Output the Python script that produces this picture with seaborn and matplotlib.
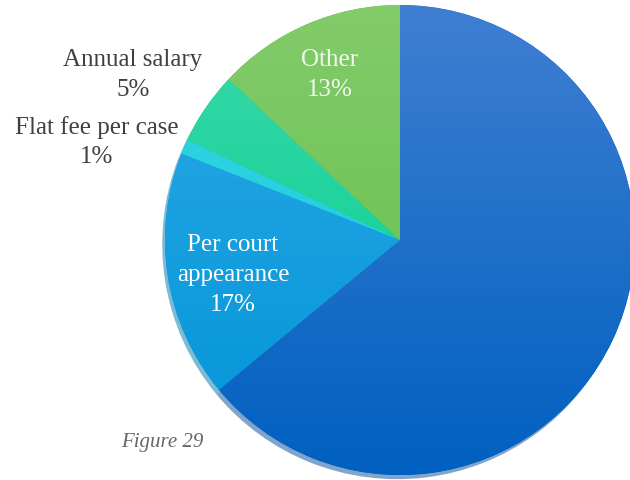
import matplotlib
matplotlib.use("Agg")
import matplotlib.pyplot as plt
import seaborn as sns
import numpy as np
from matplotlib.colors import LinearSegmentedColormap

categories = ["", "Per court\nappearance", "Flat fee per case", "Annual salary", "Other"]
shares = [64, 17, 1, 5, 13]
top_colors = ["#3f7fd2", "#2eaae6", "#38d6e6", "#3ad9a8", "#82cc6a"]
bottom_colors = ["#0060c0", "#0094d8", "#10c8d8", "#00cc90", "#62bb46"]

sns.set_theme(style="white")
plt.rcParams['font.family'] = ['Liberation Serif', 'DejaVu Serif']

fig = plt.figure(figsize=(6.30, 4.81), dpi=100)
ax = fig.add_axes([0, 0, 1, 1])

cx, cy, r = 400, 240, 235
wedges, _ = ax.pie(shares, startangle=90, counterclock=False, center=(cx, cy), radius=r,
                   colors=bottom_colors, frame=True,
                   shadow={'ox': -2, 'oy': -3, 'shade': 0.2},
                   wedgeprops=dict(linewidth=0))

grad = np.linspace(1, 0, 256).reshape(-1, 1)
for w, ct, cb in zip(wedges, top_colors, bottom_colors):
    cmap = LinearSegmentedColormap.from_list("g", [cb, ct])
    im = ax.imshow(grad, cmap=cmap, extent=(cx - r, cx + r, cy - r, cy + r),
                   origin='upper', aspect='auto', zorder=w.get_zorder() + 0.1, vmin=0, vmax=1)
    im.set_clip_path(w)
ax.set_xlim(0, 630)
ax.set_ylim(0, 481)
ax.set_aspect('equal')
ax.axis('off')

fs = 18
ls = 1.45
ax.text(330, 481 - 75, "Other\n13%", color="#f4f8f0", ha="center", va="center", fontsize=fs, linespacing=ls, zorder=10)
ax.text(233, 481 - 275, "Per court\nappearance\n17%", color="white", ha="center", va="center", fontsize=fs, linespacing=ls, zorder=10)
ax.text(133, 481 - 75, "Annual salary\n5%", color="#404040", ha="center", va="center", fontsize=fs, linespacing=ls, zorder=10)
ax.text(97, 481 - 142, "Flat fee per case\n1%", color="#404040", ha="center", va="center", fontsize=fs, linespacing=ls, zorder=10)
ax.text(162, 481 - 443, "Figure 29", color="#666666", ha="center", va="center", fontsize=15, style="italic", zorder=10)

fig.savefig("out.png", dpi=100)
